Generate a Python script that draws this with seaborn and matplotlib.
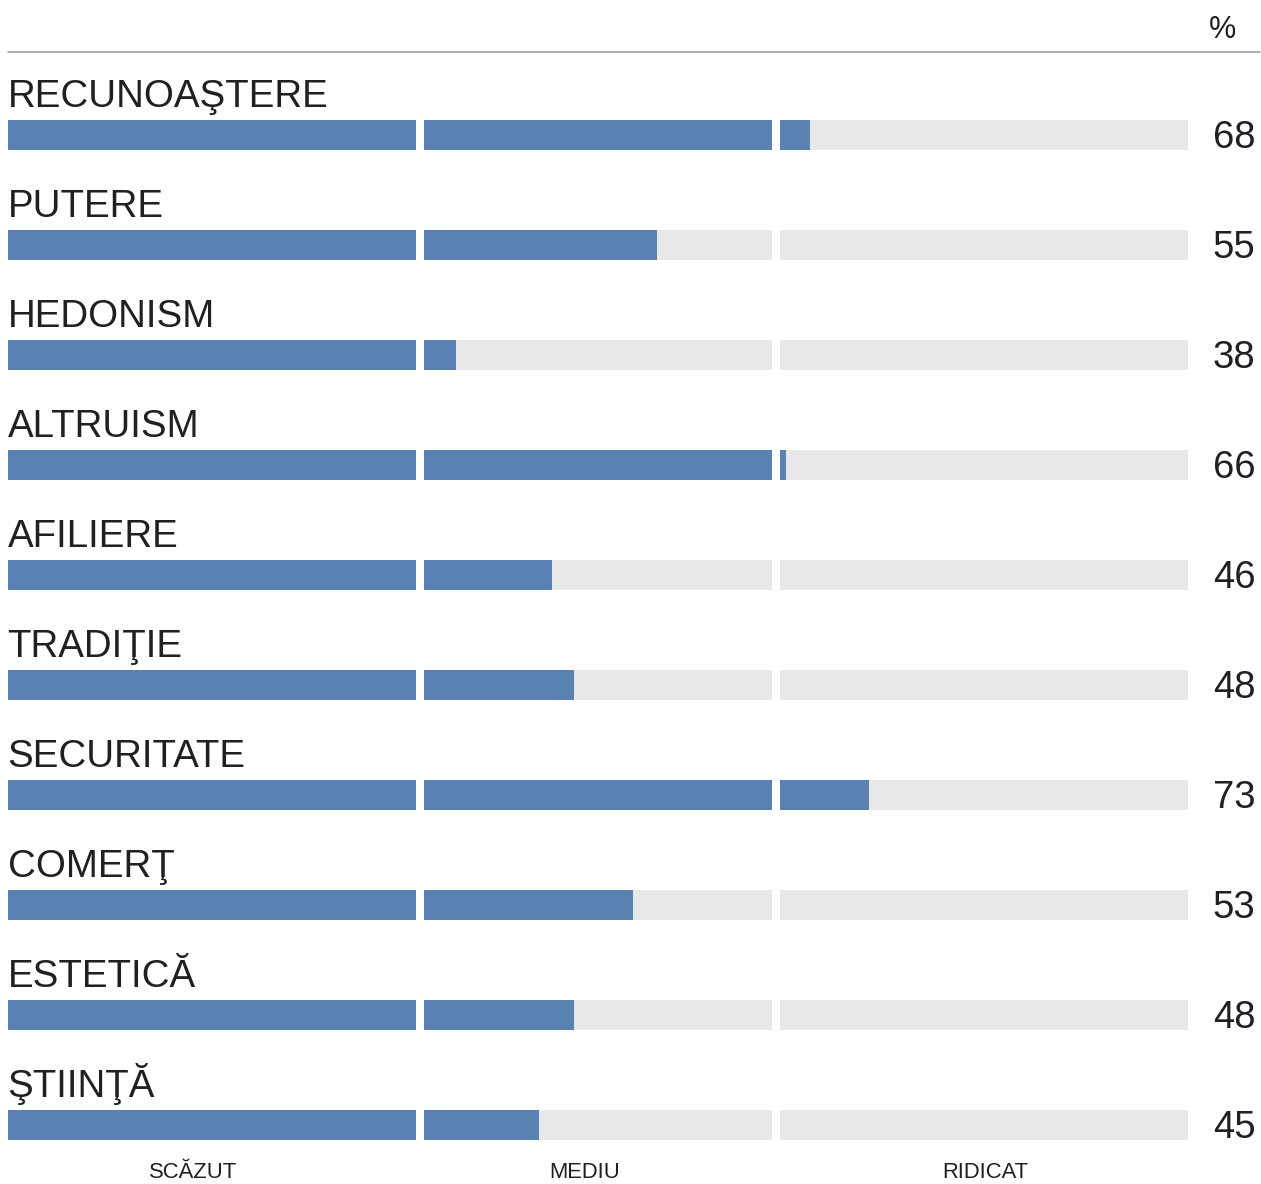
import matplotlib
matplotlib.use("Agg")
import matplotlib.pyplot as plt
import seaborn as sns
import pandas as pd
import numpy as np
from matplotlib import font_manager

# ---- data ----
categories = ["RECUNOAŞTERE", "PUTERE", "HEDONISM", "ALTRUISM", "AFILIERE",
              "TRADIŢIE", "SECURITATE", "COMERŢ", "ESTETICĂ", "ŞTIINŢĂ"]
values = [67.6, 55.1, 37.8, 65.5, 46.0, 47.9, 72.6, 53.0, 47.9, 44.9]
value_labels = ["68", "55", "38", "66", "46", "48", "73", "53", "48", "45"]
band_labels = ["SCĂZUT", "MEDIU", "RIDICAT"]
band_edges = [0, 35, 65, 100]
unit_label = "%"

# ---- style ----
BLUE = "#5981b1"
GREY = "#e8e8e8"
TEXT = "#231f20"
sns.set_theme(style="white")
plt.rcParams["font.family"] = ["Liberation Sans", "DejaVu Sans"]

names = {f.name for f in font_manager.fontManager.ttflist}
narrow = "Liberation Sans Narrow" if "Liberation Sans Narrow" in names else "Liberation Sans"

# segment geometry in pixels (band widths and gap)
seg_px = [408, 348, 408]
gap = 8
seg_start = [0, seg_px[0] + gap, seg_px[0] + seg_px[1] + 2 * gap]
total = seg_start[2] + seg_px[2]


def to_x(v):
    for k in range(3):
        lo, hi = band_edges[k], band_edges[k + 1]
        if v <= hi or k == 2:
            return seg_start[k] + (min(v, hi) - lo) / (hi - lo) * seg_px[k]


df = pd.DataFrame({"cat": categories, "val": values})
df["fill"] = [to_x(v) for v in values]
df["bg"] = total

W, H = 1261, 1184
fig = plt.figure(figsize=(W / 100, H / 100), dpi=100)
ax = fig.add_axes([8 / W, 0, total / W, 1])

bw = 30 / 110
sns.barplot(data=df, y="cat", x="bg", color=GREY, width=bw, ax=ax,
            orient="h", saturation=1, edgecolor="none", linewidth=0)
sns.barplot(data=df, y="cat", x="fill", color=BLUE, width=bw, ax=ax,
            orient="h", saturation=1, edgecolor="none", linewidth=0)

# white gaps between bands
for k in (1, 2):
    ax.axvspan(seg_start[k] - gap, seg_start[k], color="white", lw=0, zorder=5)

ax.set_xlim(0, total)
ax.set_ylim((H - 135) / 110, -135 / 110)
ax.axis("off")

for i, (c, lab) in enumerate(zip(categories, value_labels)):
    ax.text(-0.5, i - 0.2545, c, ha="left", va="baseline", fontsize=27.7, color=TEXT)
    ax.text(1247.5, i + 0.118, lab, ha="right", va="baseline", fontsize=27.5, color=TEXT)

band_centers = [185, 577, 977]
for lab, cx in zip(band_labels, band_centers):
    ax.text(cx, (1178.5 - 135) / 110, lab, ha="center", va="baseline",
            fontsize=15.8, color=TEXT)

ax.text(1215, (38.5 - 135) / 110, unit_label, ha="center", va="baseline",
        fontsize=22, color=TEXT, family=[narrow, "DejaVu Sans"])

ax.plot([0, 1252], [(52 - 135) / 110] * 2, color="#9a9a9a", lw=1.1,
        clip_on=False, zorder=6)

fig.savefig("out.png", dpi=100, facecolor="white")
